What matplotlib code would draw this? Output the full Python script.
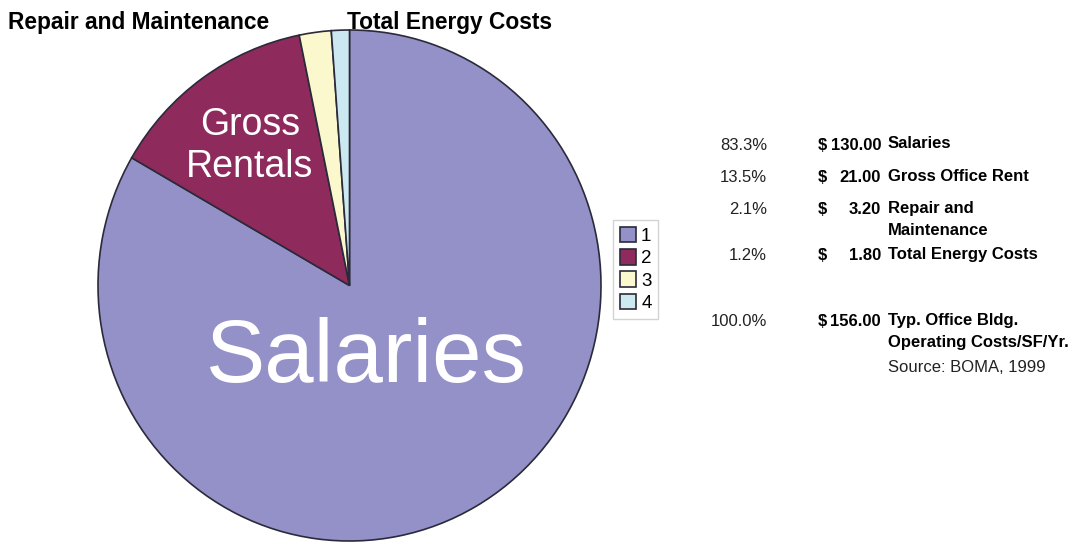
import matplotlib.pyplot as plt
from matplotlib import font_manager

W, H = 1073, 544

# data
categories = ['Salaries', 'Gross Office Rent', 'Repair and\nMaintenance', 'Total Energy Costs']
amounts = [130.00, 21.00, 3.20, 1.80]
percents = ['83.3%', '13.5%', '2.1%', '1.2%']
legend_labels = ['1', '2', '3', '4']
colors = ['#9490c8', '#8e2a5c', '#faf8cc', '#cce8f0']
total_pct = '100.0%'
total_amount = 156.00

names = {f.name for f in font_manager.fontManager.ttflist}
narrow = 'Liberation Sans Narrow' if 'Liberation Sans Narrow' in names else 'Liberation Sans'
plt.rcParams['font.family'] = ['Liberation Sans', 'DejaVu Sans']


def px(x, y):
    return x / W, 1 - y / H


fig = plt.figure(figsize=(W / 100, H / 100), dpi=100)
ax = fig.add_axes([98 / W, 3 / H, 503 / W, 511 / H])
wedges, _ = ax.pie(amounts, colors=colors, startangle=90, counterclock=False,
                   radius=1, wedgeprops=dict(edgecolor='#2a2a3a', linewidth=1.2))
ax.set_aspect('auto')
ax.set_xlim(-1, 1)
ax.set_ylim(-1, 1)
ax.axis('off')

# labels on the pie
fig.text(*px(250, 135), 'Gross', color='white', fontsize=27, ha='center', va='baseline')
fig.text(*px(250, 177), 'Rentals', color='white', fontsize=27, ha='center', va='baseline')
fig.text(*px(366, 382), 'Salaries', color='white', fontsize=64, ha='center', va='baseline')

# labels above the pie
fig.text(*px(8, 22), 'Repair and Maintenance', family=narrow, fontweight='bold',
         fontsize=16.4, ha='left', va='center')
fig.text(*px(347, 22), 'Total Energy Costs', family=narrow, fontweight='bold',
         fontsize=16.4, ha='left', va='center')

# legend
leg = fig.legend(wedges, legend_labels, loc='upper left', bbox_to_anchor=px(613, 220),
                 fontsize=13.5, frameon=True, fancybox=False, handlelength=0.85,
                 handleheight=0.9, handletextpad=0.3, labelspacing=0.22,
                 borderpad=0.35, borderaxespad=0)
leg.get_frame().set_edgecolor('#c8c8c8')
leg.get_frame().set_linewidth(1.0)

# table on the right
rows_y = [145, 178, 210, 256]
fs = 12
ls = 1.6
for y, pct, amt, cat in zip(rows_y, percents, amounts, categories):
    fig.text(*px(767, y), pct, family=narrow, fontsize=fs, ha='right', va='center', color='#222222')
    fig.text(*px(818, y), '$', family=narrow, fontsize=fs, fontweight='bold', ha='left', va='center')
    fig.text(*px(881, y), f'{amt:.2f}', family=narrow, fontsize=fs, fontweight='bold',
             ha='right', va='center')
    fig.text(*px(888, y - 9), cat, family=narrow, fontsize=fs, fontweight='bold', ha='left',
             va='top', linespacing=ls)

fig.text(*px(767, 322), total_pct, family=narrow, fontsize=fs, ha='right', va='center', color='#222222')
fig.text(*px(818, 322), '$', family=narrow, fontsize=fs, fontweight='bold', ha='left', va='center')
fig.text(*px(881, 322), f'{total_amount:.2f}', family=narrow, fontsize=fs, fontweight='bold',
         ha='right', va='center')
fig.text(*px(888, 313), 'Typ. Office Bldg.\nOperating Costs/SF/Yr.', family=narrow,
         fontsize=fs, fontweight='bold', ha='left', va='top', linespacing=ls)
fig.text(*px(888, 368), 'Source: BOMA, 1999', family=narrow, fontsize=fs, ha='left',
         va='center', color='#222222')

fig.savefig('out.png', dpi=100)
